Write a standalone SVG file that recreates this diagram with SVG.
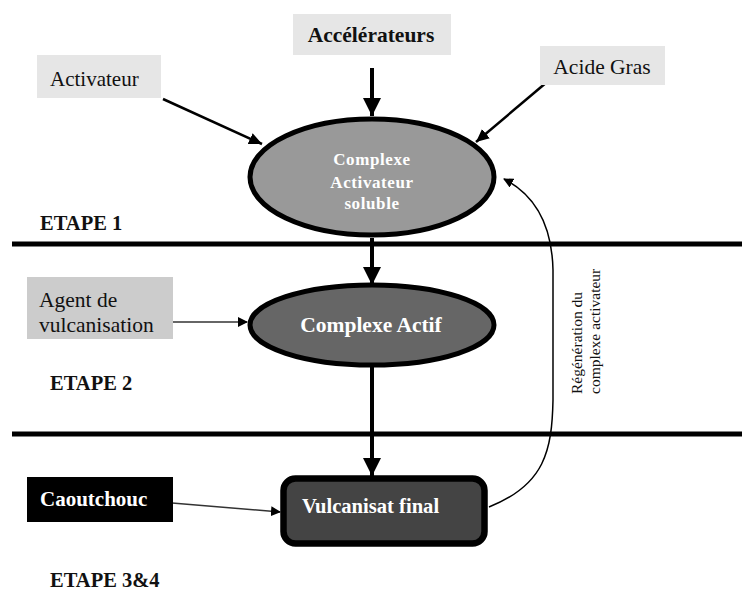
<svg xmlns="http://www.w3.org/2000/svg" width="742" height="610" viewBox="0 0 742 610">
<defs>
<marker id="ah" markerWidth="10" markerHeight="10" refX="9" refY="5" orient="auto" markerUnits="userSpaceOnUse"><path d="M0,0 L10,5 L0,10 z" fill="#000"/></marker>
<marker id="ahb" markerWidth="20" markerHeight="20" refX="18" refY="10" orient="auto" markerUnits="userSpaceOnUse"><path d="M0,1 L18,10 L0,19 z" fill="#000"/></marker>
<marker id="ahm" markerWidth="14" markerHeight="14" refX="13" refY="7" orient="auto" markerUnits="userSpaceOnUse"><path d="M0,1 L13,7 L0,13 z" fill="#000"/></marker>
</defs>
<style>
text{font-family:"Liberation Serif","Times New Roman",serif}
.lbl{fill:#111}
.b{font-weight:bold;fill:#111}
.w{fill:#fff;font-weight:bold}
.sep{stroke:#000;stroke-width:5}
</style>
<g id="separators">
<line class="sep" x1="12" y1="244" x2="742" y2="244"/>
<line class="sep" x1="12" y1="434" x2="742" y2="434"/>
</g>
<g id="connectors" fill="none" stroke="#000">
<line x1="372" y1="68" x2="372" y2="116" stroke-width="4" marker-end="url(#ahb)"/>
<line x1="163" y1="99" x2="262" y2="144" stroke-width="2.5" marker-end="url(#ahm)"/>
<line x1="547" y1="82" x2="476" y2="142" stroke-width="2.5" marker-end="url(#ahm)"/>
<line x1="372" y1="238" x2="372" y2="285" stroke-width="4" marker-end="url(#ahb)"/>
<line x1="172" y1="322" x2="247" y2="322" stroke-width="1.5" stroke="#333" marker-end="url(#ah)"/>
<line x1="372" y1="366" x2="372" y2="476" stroke-width="4" marker-end="url(#ahb)"/>
<line x1="172" y1="503" x2="280" y2="512" stroke-width="1.5" stroke="#333" marker-end="url(#ah)"/>
<path d="M489,507 C545,485 552,450 553,400 L553,270 C552,225 535,195 504,179" stroke-width="1.5" marker-end="url(#ah)"/>
</g>
<g id="accelerateurs"><rect x="293" y="14" width="158" height="41" fill="#e6e6e6"/><text x="371" y="42" text-anchor="middle" class="b" font-size="21.5">Accélérateurs</text></g>
<g id="activateur"><rect x="37" y="55" width="124" height="43" fill="#e6e6e6"/><text x="50" y="86" class="lbl" font-size="21">Activateur</text></g>
<g id="acide-gras"><rect x="540" y="46" width="125" height="39" fill="#e6e6e6"/><text x="602" y="74" text-anchor="middle" class="lbl" font-size="21.5">Acide Gras</text></g>
<g id="complexe-soluble"><ellipse cx="372" cy="177" rx="122" ry="58" fill="#999" stroke="#000" stroke-width="5"/>
<text x="372" y="165" text-anchor="middle" class="w" font-size="17" letter-spacing="0.6">Complexe</text>
<text x="372" y="188" text-anchor="middle" class="w" font-size="17" letter-spacing="0.6">Activateur</text>
<text x="372" y="209" text-anchor="middle" class="w" font-size="17" letter-spacing="0.6">soluble</text></g>
<g id="etape1"><text x="40" y="230" class="b" font-size="20.5">ETAPE 1</text></g>
<g id="agent"><rect x="27" y="277" width="146" height="62" fill="#ccc"/><text x="39" y="307" class="lbl" font-size="21.5">Agent de</text><text x="39" y="332" class="lbl" font-size="21.5">vulcanisation</text></g>
<g id="complexe-actif"><ellipse cx="372" cy="325" rx="122" ry="40" fill="#666" stroke="#000" stroke-width="5"/><text x="371" y="332" text-anchor="middle" class="w" font-size="21.5">Complexe Actif</text></g>
<g id="etape2"><text x="50" y="390" class="b" font-size="20.5">ETAPE 2</text></g>
<g id="caoutchouc"><rect x="27" y="477" width="146" height="45" fill="#000"/><text x="40" y="506" class="w" font-size="21">Caoutchouc</text></g>
<g id="vulcanisat"><rect x="283.5" y="478.5" width="201" height="65" rx="12" fill="#444" stroke="#000" stroke-width="6.5"/><text x="302" y="513" class="w" font-size="20.6">Vulcanisat final</text></g>
<g id="regeneration"><text transform="translate(582,394) rotate(-90)" font-size="15.5" fill="#111">Régénération du</text><text transform="translate(600,394) rotate(-90)" font-size="15.5" fill="#111">complexe activateur</text></g>
<g id="etape34"><text x="50" y="587" class="b" font-size="20.5">ETAPE 3&amp;4</text></g>
</svg>
